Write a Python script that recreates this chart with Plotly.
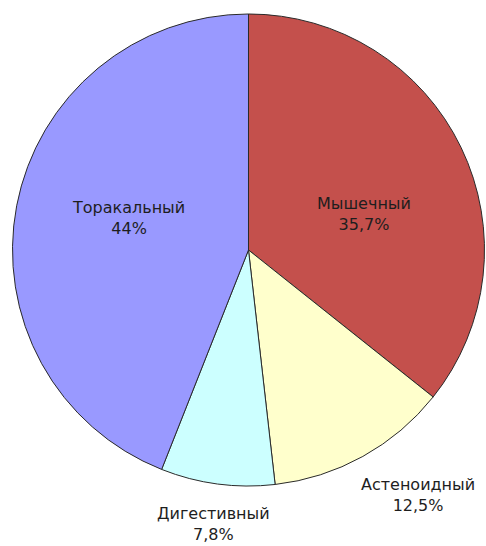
import plotly.graph_objects as go

labels = ["Мышечный", "Астеноидный", "Дигестивный", "Торакальный"]
values = [35.7, 12.5, 7.8, 44.0]
slice_colors = ["#C4504C", "#FFFFCC", "#CCFFFF", "#9999FF"]

def fmt(v):
    s = ("%.1f" % v).rstrip("0").rstrip(".")
    return s.replace(".", ",") + "%"

texts = [f"{l}<br>{fmt(v)}" for l, v in zip(labels, values)]

fig = go.Figure()
fig.add_trace(go.Pie(
    labels=labels,
    values=values,
    sort=False,
    direction="clockwise",
    rotation=0,
    marker=dict(colors=slice_colors, line=dict(color="#2a2a2a", width=1)),
    textinfo="none",
    showlegend=False,
    hoverinfo="label+percent",
    domain=dict(x=[0.0257, 0.9969], y=[0.1099, 0.9744]),
))

# label anchor points (pixel centres of each label block)
label_pos = [(364, 214), (418, 495), (213, 524), (128, 218)]
for t, (px, py) in zip(texts, label_pos):
    fig.add_annotation(
        x=px / 486, y=1 - py / 546, xref="paper", yref="paper",
        xanchor="center", yanchor="middle",
        text=t, showarrow=False, align="center",
        font=dict(family="DejaVu Sans, Arial, sans-serif", size=16, color="#1e1e1e"),
    )

fig.update_layout(
    width=486, height=546,
    margin=dict(l=0, r=0, t=0, b=0),
    paper_bgcolor="white",
    plot_bgcolor="white",
)

fig.write_html("out.html")
